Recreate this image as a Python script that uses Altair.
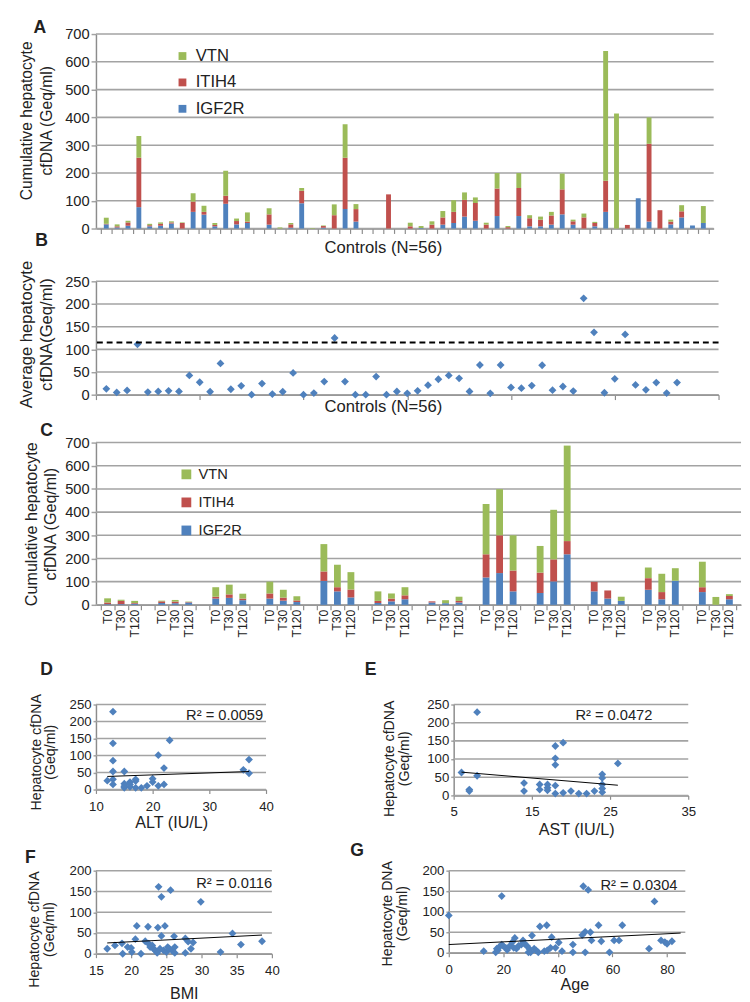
import altair as alt
import pandas as pd

FONT = "Liberation Sans"
BLUE, RED, GREEN = "#4F81BD", "#C0504D", "#9BBB59"
GRID, AXC, TXT = "#A3A3A3", "#8C8C8C", "#222222"

genes = ["VTN", "ITIH4", "IGF2R"]
gene_colors = [GREEN, RED, BLUE]

# ---------------- Panel A : controls, cumulative cfDNA ----------------
a_igf2r = [15, 4, 10, 77, 8, 10, 18, 0, 60, 50, 8, 89, 15, 20, 0, 14, 0, 3, 91, 0,
           3, 0, 70, 25, 0, 0, 0, 0, 0, 2, 0, 14, 20, 43, 28, 0, 45, 0, 45, 8,
           8, 14, 51, 14, 0, 8, 60, 0, 0, 109, 25, 0, 15, 40, 11, 20]
a_itih4 = [2, 4, 12, 178, 4, 7, 4, 20, 37, 10, 5, 29, 12, 5, 0, 37, 0, 12, 45, 0,
           6, 48, 185, 45, 0, 0, 123, 0, 8, 0, 14, 26, 40, 60, 64, 14, 99, 5, 101, 29,
           24, 33, 90, 12, 40, 12, 112, 0, 13, 0, 280, 66, 10, 22, 0, 0]
a_vtn = [22, 7, 6, 78, 5, 5, 4, 2, 30, 22, 7, 90, 9, 33, 0, 22, 4, 5, 10, 2,
         2, 39, 120, 18, 0, 0, 0, 0, 13, 7, 12, 23, 42, 27, 20, 7, 56, 4, 54, 11,
         11, 13, 57, 6, 14, 4, 467, 414, 0, 0, 95, 0, 7, 22, 0, 61]
a_ticks = list(range(0, 701, 100))

# ---------------- Panel B : controls, average cfDNA ----------------
b_avg = [13, 5, 9.4, 111, 5.8, 7.2, 8.6, 7.2, 42.5, 27.4, 6.5, 69, 12, 19.5, 0, 24.5,
         1.4, 6.5, 48, 0, 3.6, 29, 125, 29, 0, 0, 40, 0, 7, 3, 8.6, 21, 34, 42.5,
         36, 7, 65.5, 3, 65.5, 16, 14.4, 20, 65, 10, 18, 8, 212.5, 137.6, 4.3, 35,
         133, 21.6, 10.8, 26.7, 3.6, 26.7]
b_threshold = 115
b_ticks = list(range(0, 251, 50))

# ---------------- Panel C : time course (12 subjects x T0/T30/T120) ----------------
c_labels = ["T0", "T30", "T120"]
c_igf2r = [3, 3, 5, 8, 7, 10, 27, 30, 20, 27, 18, 12, 103, 58, 32, 8, 15, 24,
           10, 7, 10, 118, 137, 58, 51, 101, 218, 58, 27, 17, 65, 24, 104, 55, 0, 24]
c_itih4 = [7, 14, 3, 7, 7, 2, 8, 15, 7, 22, 13, 7, 41, 18, 34, 9, 12, 17,
           5, 0, 7, 100, 163, 90, 88, 95, 57, 41, 35, 0, 50, 31, 0, 21, 0, 14]
c_vtn = [18, 5, 9, 3, 7, 2, 41, 42, 21, 51, 34, 18, 118, 97, 75, 41, 22, 35,
         0, 13, 18, 217, 199, 152, 115, 214, 412, 0, 0, 18, 46, 79, 54, 110, 34, 8]
c_ticks = list(range(0, 701, 100))

# ---------------- Panels D-G : correlations ----------------
d_x = [13, 13, 13, 13, 13, 13, 12, 15, 15, 15, 16, 16, 17, 17, 18, 19, 20, 20, 21, 21,
       22, 22, 23, 36, 37, 37, 15, 16, 17]
d_y = [229, 136, 85, 53, 30, 15, 26, 53, 17, 5, 22, 8, 30, 5, 5, 11, 32, 22, 101, 11,
       63, 15, 145, 58, 88, 48, 10, 15, 25]
d_trend_x, d_trend_y = [12, 37], [38.5, 53]

e_x = [6, 7, 7, 8, 8, 14, 14, 16, 16, 17, 17, 17, 18, 18, 18, 18, 18, 19, 19, 20,
       21, 22, 23, 24, 24, 24, 24, 24, 26]
e_y = [63, 16, 12, 229, 54, 34, 12, 30, 16, 30, 21, 14, 136, 102, 84, 27, 5, 145, 7, 12,
       5, 5, 12, 58, 48, 30, 19, 9, 88]
e_trend_x, e_trend_y = [6, 26], [64, 28]

f_x = [16.6, 17.7, 18.7, 18.8, 19.5, 20.0, 20.1, 20.6, 20.8, 21.4, 22.0, 22.4, 22.5, 22.7,
       23.0, 23.2, 23.4, 23.7, 23.8, 23.9, 24.1, 24.3, 24.3, 24.6, 24.8, 25.0, 25.2, 25.4,
       25.6, 25.8, 26.1, 26.2, 26.2, 27.7, 27.7, 28.1, 28.5, 28.8, 29.9, 32.7, 34.4, 35.6, 38.6]
f_y = [12, 20, 25, 0, 16, 14, 4, 35, 67, 0, 30, 65, 24, 16, 20, 12, 8, 2, 63, 161, 12,
       137, 43, 8, 67, 4, 16, 12, 153, 8, 42, 16, 2, 2, 37, 29, 12, 27, 125, 4, 49, 22, 30]
f_trend_x, f_trend_y = [16.6, 38.6], [26, 45]

g_x = [0, 12.8, 17.2, 17.6, 18, 18.5, 19.4, 19.4, 20, 20.9, 21.4, 22.4, 23.3, 23.8, 24.2,
       24.8, 25.6, 26.6, 27.2, 27.8, 28.6, 29.2, 29.5, 30, 30.5, 31.3, 32, 32.8, 33.4, 35,
       35.9, 36.1, 37.3, 37.7, 39.1, 40.3, 41.5, 45.5, 45.5, 48.9, 49.3, 50, 50, 51.1, 51.9,
       52.3, 54.9, 55.9, 58.9, 60.6, 62.4, 63.6, 73.4, 75.4, 77.8, 79.2, 80, 81.8]
g_y = [91, 4, 1, 10, 6, 14, 138, 20, 16, 12, 7, 17, 26, 12, 36, 10, 17, 20, 30, 22, 17, 1,
       10, 1, 42, 10, 6, 1, 64, 4, 67, 6, 12, 38, 12, 25, 4, 20, 1, 43, 162, 51, 1, 153, 50,
       30, 67, 28, 1, 30, 30, 67, 10, 125, 30, 26, 22, 28]
g_trend_x, g_trend_y = [0, 85], [20, 48]


# ---------------- helpers ----------------
def text_layer(s, x, y, size, align="left", baseline="top", weight="normal", angle=0, opacity=1.0):
    kw = dict(font=FONT, fontSize=size, fontWeight=weight, align=align,
              baseline=baseline, color=TXT, opacity=opacity)
    if angle:
        kw["angle"] = angle
    return alt.Chart(pd.DataFrame({"t": [s]})).mark_text(**kw).encode(
        x=alt.value(x), y=alt.value(y), text="t:N")


def spacer(x, y, align="left", baseline="top"):
    return text_layer(".", x, y, 10, align=align, baseline=baseline, opacity=0)


def y_axis(vals, title, tx, ty, tsize, lh, lsize=15, tick=5, pad=2):
    return alt.Axis(values=vals, title=title, titleX=tx, titleY=ty, titleAngle=270,
                    titleAlign="center", titleBaseline="top", titleFont=FONT,
                    titleFontSize=tsize, titleFontWeight="normal", titleLineHeight=lh,
                    titleColor=TXT, labelFont=FONT, labelFontSize=lsize, labelColor=TXT,
                    labelPadding=pad, tickSize=tick, tickColor=GRID, tickWidth=1.5,
                    domainColor=AXC, domainWidth=1.5, grid=False, labelOverlap=False)


def x_axis(vals, labels=True, lsize=13, tick=5, pad=3):
    return alt.Axis(values=vals, title=None, labels=labels, labelFont=FONT,
                    labelFontSize=lsize, labelColor=TXT, labelPadding=pad, labelFlush=False,
                    labelOverlap=False, tickSize=tick, tickColor=AXC, tickWidth=1.2,
                    domainColor=AXC, domainWidth=1.5, grid=False)


def grid_layer(vals, field, ysc, ya):
    return alt.Chart(pd.DataFrame({field: vals})).mark_rule(color=GRID, strokeWidth=1.6).encode(
        y=alt.Y(f"{field}:Q", scale=ysc, axis=ya))


def gene_legend(lx, ly, ssize, fsize, rpad):
    return alt.Legend(orient="none", legendX=lx, legendY=ly, title=None, symbolType="square",
                      symbolSize=ssize, symbolStrokeWidth=0, symbolOpacity=1,
                      labelFont=FONT, labelFontSize=fsize, labelColor=TXT, labelOffset=5,
                      rowPadding=rpad, padding=0, direction="vertical")


def stacked_rows(keys, igf, iti, vtn, keyname):
    rows = []
    for k, a, b, c in zip(keys, igf, iti, vtn):
        rows.append({keyname: k, "gene": "IGF2R", "val": a, "ord": 0})
        rows.append({keyname: k, "gene": "ITIH4", "val": b, "ord": 1})
        rows.append({keyname: k, "gene": "VTN", "val": c, "ord": 2})
    return pd.DataFrame(rows)


# ---------------- Panel A ----------------
dfA = stacked_rows(list(range(1, 57)), a_igf2r, a_itih4, a_vtn, "id")
ysA = alt.Scale(domain=[0, 700], nice=False)
yaA = y_axis(a_ticks, ["Cumulative hepatocyte", "cfDNA (Geq/ml)"], -79, 88.3, 16, 21)
barsA = alt.Chart(dfA).mark_bar(size=5).encode(
    x=alt.X("id:Q", scale=alt.Scale(domain=[0.5, 56.5], nice=False, zero=False),
            axis=x_axis([i + 0.5 for i in range(57)], labels=False)),
    y=alt.Y("val:Q", stack="zero", scale=ysA, axis=yaA),
    color=alt.Color("gene:N", scale=alt.Scale(domain=genes, range=gene_colors),
                    legend=gene_legend(80, 14, 64, 17, 9)),
    order=alt.Order("ord:Q", sort="ascending"),
)
panelA = alt.layer(
    grid_layer(a_ticks, "val", ysA, yaA),
    barsA,
    spacer(-79, -14.7),
    spacer(-79, 228.3, baseline="bottom"),
    text_layer("A", -64, -14.7, 18, weight="bold"),
    text_layer("B", -62, 203.3, 18, weight="bold"),
    text_layer("Controls (N=56)", 294, 219.3, 17, align="center", baseline="middle"),
).properties(width=632, height=199)

# ---------------- Panel B ----------------
dfB = pd.DataFrame({"n": list(range(1, 57)), "avg": b_avg})
xsB = alt.Scale(domain=[0, 60], nice=False, zero=False)
ysB = alt.Scale(domain=[0, 250], nice=False)
xaB = x_axis(list(range(0, 61, 10)), labels=False)
yaB = y_axis(b_ticks, ["Average hepatocyte", "cfDNA(Geq/ml)"], -79, 54, 17, 21)
ptsB = alt.Chart(dfB).mark_point(shape="diamond", filled=True, size=64, color=BLUE, opacity=1).encode(
    x=alt.X("n:Q", scale=xsB, axis=xaB),
    y=alt.Y("avg:Q", scale=ysB, axis=yaB),
)
ruleB = alt.Chart(pd.DataFrame({"avg": [b_threshold]})).mark_rule(
    color="black", strokeWidth=2, strokeDash=[6, 4]).encode(
    y=alt.Y("avg:Q", scale=ysB, axis=yaB))
panelB = alt.layer(
    grid_layer(b_ticks, "avg", ysB, yaB),
    ptsB, ruleB,
    spacer(-79, -24),
    spacer(-79, 139, baseline="bottom"),
    text_layer("Controls (N=56)", 294, 129, 17, align="center", baseline="middle"),
).properties(width=637, height=116)

# ---------------- Panel C ----------------
slots = [g * 4 + t for g in range(12) for t in range(3)]
slot_labels = [c_labels[t] for g in range(12) for t in range(3)]
dfC = stacked_rows(slots, c_igf2r, c_itih4, c_vtn, "slot")
xsC = alt.Scale(domain=[-0.5, 46.5], nice=False, zero=False)
xaC = x_axis([i - 0.5 for i in range(48)], labels=False)
ysC = alt.Scale(domain=[0, 700], nice=False)
yaC = y_axis(c_ticks, ["Cumulative hepatocyte", "cfDNA (Geq/ml)"], -74, 83, 16.5, 20)
barsC = alt.Chart(dfC).mark_bar(size=7).encode(
    x=alt.X("slot:Q", scale=xsC, axis=xaC),
    y=alt.Y("val:Q", stack="zero", scale=ysC, axis=yaC),
    color=alt.Color("gene:N", scale=alt.Scale(domain=genes, range=gene_colors),
                    legend=gene_legend(85, 25, 100, 15, 12.7)),
    order=alt.Order("ord:Q", sort="ascending"),
)
labsC = alt.Chart(pd.DataFrame({"slot": slots, "lab": slot_labels})).mark_text(
    angle=270, align="right", baseline="middle", font=FONT, fontSize=12.5, color=TXT).encode(
    x=alt.X("slot:Q", scale=xsC, axis=xaC), y=alt.value(171), text="lab:N")
panelC = alt.layer(
    grid_layer(c_ticks, "val", ysC, yaC),
    barsC, labsC,
    spacer(-74, -26),
    spacer(-74, 250, baseline="bottom"),
    text_layer("C", -57, -21, 18, weight="bold"),
    text_layer("D", -57, 224, 18, weight="bold"),
    text_layer("E", 275, 224, 18, weight="bold"),
).properties(width=660, height=166)


# ---------------- Panels D-G ----------------
def scatter_panel(xs, ys, tx, ty, xdom, xvals, ydom, yvals, w, h, ytitle, ytx, yty,
                  r2, r2x, r2y, xtitle, xtx, xty, extra):
    df = pd.DataFrame({"px": xs, "py": ys})
    dft = pd.DataFrame({"px": tx, "py": ty})
    xsc = alt.Scale(domain=xdom, nice=False, zero=False)
    ysc = alt.Scale(domain=ydom, nice=False)
    xa = x_axis(xvals, labels=True, lsize=13.5, tick=4, pad=6)
    ya = y_axis(yvals, ytitle, ytx, yty, 14.5, 15, lsize=13.5, tick=3, pad=2)
    pts = alt.Chart(df).mark_point(shape="diamond", filled=True, size=64, color=BLUE, opacity=1).encode(
        x=alt.X("px:Q", scale=xsc, axis=xa),
        y=alt.Y("py:Q", scale=ysc, axis=ya),
    )
    trend = alt.Chart(dft).mark_line(color="black", strokeWidth=1).encode(
        x=alt.X("px:Q", scale=xsc, axis=xa), y=alt.Y("py:Q", scale=ysc, axis=ya))
    return alt.layer(
        grid_layer(yvals, "py", ysc, ya),
        pts, trend,
        text_layer(r2, r2x, r2y, 15, align="right", baseline="middle"),
        text_layer(xtitle, xtx, xty, 16.5, align="center", baseline="middle"),
        *extra,
    ).properties(width=w, height=h)


panelD = scatter_panel(d_x, d_y, d_trend_x, d_trend_y, [10, 40], [10, 20, 30, 40],
                       [0, 250], list(range(0, 251, 50)), 174, 87,
                       ["Hepatocyte cfDNA", "(Geq/ml)"], -68, 48.3,
                       "R\u00b2 = 0.0059", 171, 11, "ALT (IU/L)", 77.5, 121,
                       [spacer(-88, -17.7), spacer(204, 137.3, align="right", baseline="bottom")])
panelE = scatter_panel(e_x, e_y, e_trend_x, e_trend_y, [5, 35], [5, 15, 25, 35],
                       [0, 250], list(range(0, 251, 50)), 240, 93,
                       ["Hepatocyte cfDNA", "(Geq/ml)"], -72.7, 55,
                       "R\u00b2 = 0.0472", 203.3, 11, "AST (IU/L)", 125.8, 129,
                       [spacer(-161.7, -15), spacer(-161.7, 140, baseline="bottom")])
panelF = scatter_panel(f_x, f_y, f_trend_x, f_trend_y, [15, 40], [15, 20, 25, 30, 35, 40],
                       [0, 200], list(range(0, 201, 50)), 180, 85,
                       ["Hepatocyte cfDNA", "(Geq/ml)"], -69.7, 59.7,
                       "R\u00b2 = 0.0116", 180.3, 12.7, "BMI", 90.3, 126,
                       [spacer(-89.7, -23.3), spacer(202.3, 0, align="right"),
                        text_layer("F", -72.7, -22.3, 18, weight="bold")])
panelG = scatter_panel(g_x, g_y, g_trend_x, g_trend_y, [0, 86.7], [0, 20, 40, 60, 80],
                       [0, 200], list(range(0, 201, 50)), 242, 84,
                       ["Hepatocyte DNA", "(Geq/ml)"], -69.7, 43.5,
                       "R\u00b2 = 0.0304", 234, 15, "Age", 129, 117.5,
                       [spacer(-157.7, -30),
                        text_layer("G", -100.7, -29, 18, weight="bold")])

rowDE = alt.hconcat(panelD, panelE, spacing=0).resolve_scale(x="independent", y="independent")
rowFG = alt.hconcat(panelF, panelG, spacing=0).resolve_scale(x="independent", y="independent")

chart = alt.vconcat(panelA, panelB, panelC, rowDE, rowFG, spacing=0).resolve_scale(
    color="independent", x="independent", y="independent"
).properties(padding=0).configure_view(stroke=None)

chart.save("out.html", embed_options={"renderer": "svg", "actions": False})
